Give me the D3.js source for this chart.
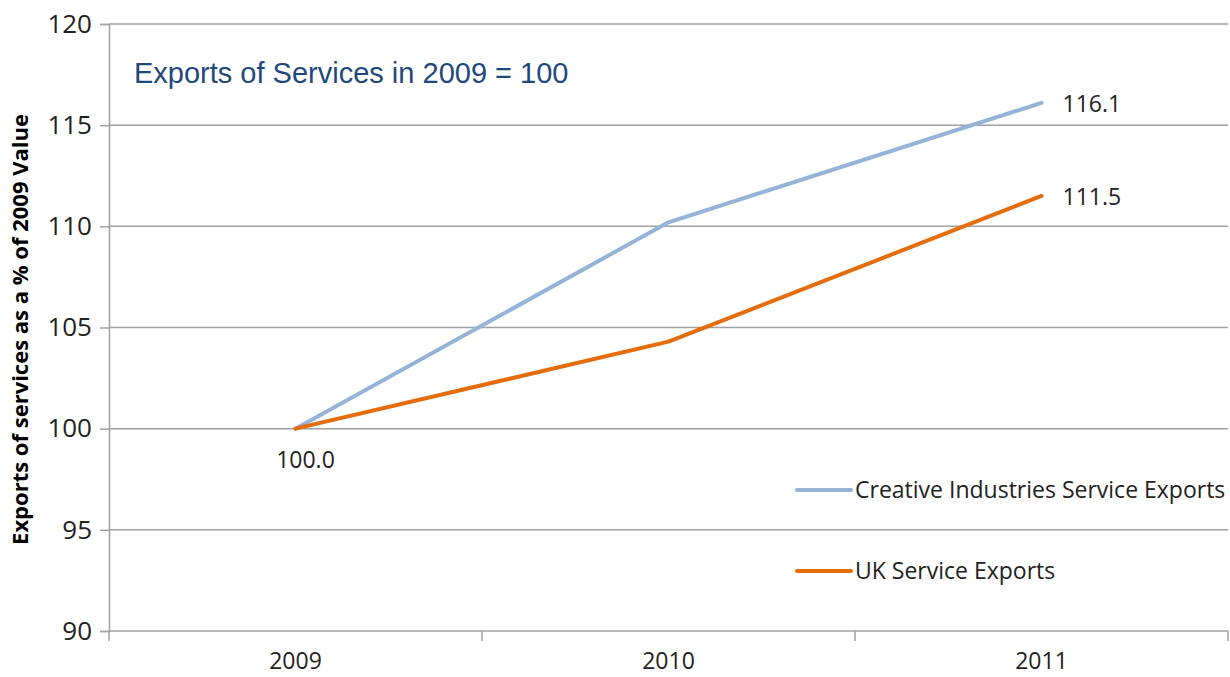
<!DOCTYPE html>
<html><head><meta charset="utf-8">
<script src="https://cdn.jsdelivr.net/npm/d3@7"></script>
<style>body{margin:0;background:#fff}svg{display:block}</style>
</head><body>
<svg id="c" width="1230" height="677"></svg>
<script>
const years = ["2009", "2010", "2011"];
const creative = [100.0, 110.2, 116.1];
const ukServices = [100.0, 104.3, 111.5];
const yTicks = [90, 95, 100, 105, 110, 115, 120];
const seriesNames = ["Creative Industries Service Exports", "UK Service Exports"];
const seriesColors = ["#95B3D7", "#E46C0A"];
const endLabels = ["116.1", "111.5"];
const startLabel = "100.0";

const svg = d3.select("#c");
const m = {left: 109, right: 1228, top: 24, bottom: 631};
const x = d3.scaleBand().domain(years).range([m.left, m.right]);
const y = d3.scaleLinear().domain([90, 120]).range([m.bottom, m.top]);
const font = "'Open Sans', sans-serif";
const fs = 23;

// gridlines + y ticks
const yAxis = d3.axisLeft(y).tickValues(yTicks).tickSize(9).tickPadding(8);
const gy = svg.append("g").attr("transform", `translate(${m.left},0)`).call(yAxis);
gy.select(".domain").attr("stroke", "#a0a0a0").attr("stroke-width", 1.5);
gy.selectAll(".tick line").attr("stroke", "#a0a0a0").attr("stroke-width", 1.5);
gy.selectAll(".tick text").attr("font-family", font).attr("font-size", 26).attr("fill", "#222");
svg.append("g").selectAll("line").data(yTicks).join("line")
  .attr("x1", m.left).attr("x2", m.right)
  .attr("y1", d => y(d)).attr("y2", d => y(d))
  .attr("stroke", "#a0a0a0").attr("stroke-width", 1.5);

// x axis
const xAxis = d3.axisBottom(x).tickSize(0).tickPadding(22);
const gx = svg.append("g").attr("transform", `translate(0,${m.bottom})`).call(xAxis);
gx.select(".domain").remove();
gx.selectAll(".tick text").attr("font-family", font).attr("font-size", fs).attr("fill", "#222");
const bounds = years.map(d => x(d)).concat([m.right]);
svg.append("g").selectAll("line").data(bounds).join("line")
  .attr("x1", d => d).attr("x2", d => d)
  .attr("y1", m.bottom).attr("y2", m.bottom + 10)
  .attr("stroke", "#a0a0a0").attr("stroke-width", 1.5);

// lines
const cx = d => x(d) + x.bandwidth() / 2;
const line = d3.line().x((d, i) => cx(years[i])).y(d => y(d));
[creative, ukServices].forEach((s, i) => {
  svg.append("path").datum(s).attr("d", line)
    .attr("fill", "none").attr("stroke", seriesColors[i])
    .attr("stroke-width", 4).attr("stroke-linecap", "round").attr("stroke-linejoin", "round");
});

// data labels
svg.append("text").attr("x", cx(years[0]) + 10).attr("y", y(creative[0]) + 39)
  .attr("text-anchor", "middle").attr("font-family", font).attr("font-size", fs).attr("fill", "#222").text(startLabel);
[creative, ukServices].forEach((s, i) => {
  svg.append("text").attr("x", cx(years[2]) + 21).attr("y", y(s[2]) + 9)
    .attr("font-family", font).attr("font-size", fs).attr("fill", "#222").text(endLabels[i]);
});

// title
svg.append("text").attr("x", 134).attr("y", 83)
  .attr("font-family", "'Liberation Sans', Arial, sans-serif").attr("font-size", 29)
  .attr("fill", "#1F497D").text("Exports of Services in 2009 = 100");

// y axis label
svg.append("text").attr("transform", `translate(28,${(m.top + m.bottom) / 2 + 2}) rotate(-90)`)
  .attr("text-anchor", "middle").attr("font-family", font).attr("font-weight", "bold")
  .attr("font-size", 22).attr("fill", "#000").text("Exports of services as a % of 2009 Value");

// legend
const legY = [490, 571];
seriesNames.forEach((n, i) => {
  svg.append("line").attr("x1", 797).attr("x2", 851).attr("y1", legY[i]).attr("y2", legY[i])
    .attr("stroke", seriesColors[i]).attr("stroke-width", 4).attr("stroke-linecap", "round");
  svg.append("text").attr("x", 855).attr("y", legY[i] + 8)
    .attr("font-family", font).attr("font-size", fs).attr("fill", "#222").text(n);
});
</script>
</body></html>
